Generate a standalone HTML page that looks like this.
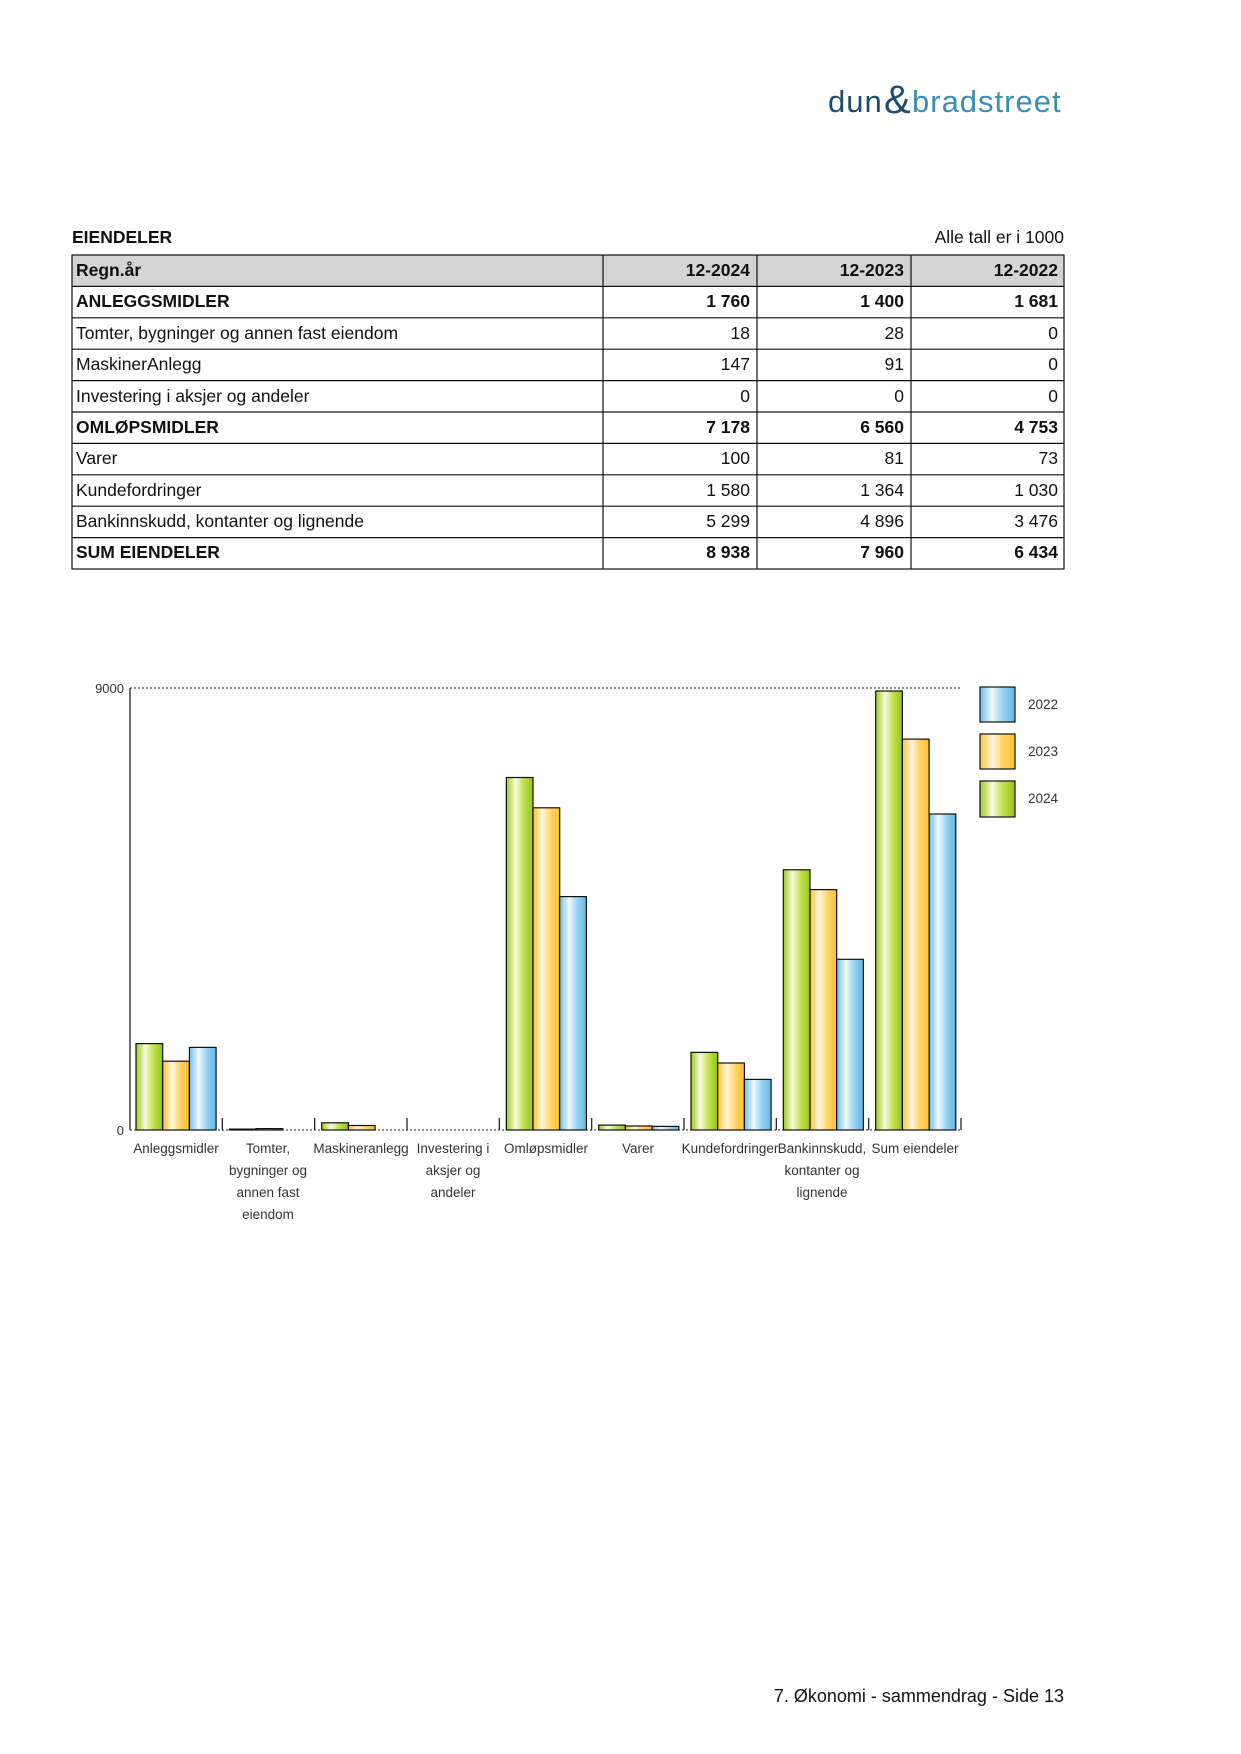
<!DOCTYPE html>
<html><head><meta charset="utf-8"><style>
html,body{margin:0;padding:0;background:#fff;}
svg{display:block;font-family:"Liberation Sans",Arial,sans-serif;}
</style></head><body>
<svg width="1241" height="1754" viewBox="0 0 1241 1754" xmlns="http://www.w3.org/2000/svg">
<defs>
<linearGradient id="gG" x1="0" x2="1" y1="0" y2="0">
<stop offset="0" stop-color="#9fcb1e"/><stop offset="0.35" stop-color="#f6fbe0"/><stop offset="0.65" stop-color="#c2e14e"/><stop offset="1" stop-color="#93c41a"/></linearGradient>
<linearGradient id="gO" x1="0" x2="1" y1="0" y2="0">
<stop offset="0" stop-color="#ffc235"/><stop offset="0.35" stop-color="#fff7df"/><stop offset="0.65" stop-color="#ffd566"/><stop offset="1" stop-color="#ffbe2c"/></linearGradient>
<linearGradient id="gB" x1="0" x2="1" y1="0" y2="0">
<stop offset="0" stop-color="#6fbfe9"/><stop offset="0.35" stop-color="#f0f9fe"/><stop offset="0.65" stop-color="#98d3f2"/><stop offset="1" stop-color="#62b5e5"/></linearGradient>
</defs>

<!-- logo -->
<text x="828" y="112" font-size="31" fill="#1f4c6e" letter-spacing="1">dun</text>
<text x="884" y="113" font-size="40" fill="#1f4c6e">&amp;</text>
<text x="912" y="112" font-size="31" fill="#3a8db3" letter-spacing="1">bradstreet</text>

<text x="72" y="243" font-size="17.5" font-weight="bold" fill="#111">EIENDELER</text>
<text x="1064" y="243" font-size="17.5" fill="#111" text-anchor="end">Alle tall er i 1000</text>

<!-- table -->
<rect x="72" y="255" width="992" height="31.4" fill="#d4d4d4"/>
<g stroke="#111" stroke-width="1.2" fill="none">
<rect x="72" y="255" width="992" height="314"/>
<line x1="603" y1="255" x2="603" y2="569"/><line x1="757" y1="255" x2="757" y2="569"/><line x1="911" y1="255" x2="911" y2="569"/>
<line x1="72" y1="286.4" x2="1064" y2="286.4"/><line x1="72" y1="317.8" x2="1064" y2="317.8"/><line x1="72" y1="349.2" x2="1064" y2="349.2"/>
<line x1="72" y1="380.6" x2="1064" y2="380.6"/><line x1="72" y1="412" x2="1064" y2="412"/><line x1="72" y1="443.4" x2="1064" y2="443.4"/>
<line x1="72" y1="474.8" x2="1064" y2="474.8"/><line x1="72" y1="506.2" x2="1064" y2="506.2"/><line x1="72" y1="537.6" x2="1064" y2="537.6"/>
</g>
<g font-size="17.5" fill="#111">
<g font-weight="bold"><text x="76" y="276">Regn.år</text><text x="750" y="276" text-anchor="end">12-2024</text><text x="904" y="276" text-anchor="end">12-2023</text><text x="1058" y="276" text-anchor="end">12-2022</text></g>
<g font-weight="bold"><text x="76" y="307">ANLEGGSMIDLER</text><text x="750" y="307" text-anchor="end">1 760</text><text x="904" y="307" text-anchor="end">1 400</text><text x="1058" y="307" text-anchor="end">1 681</text></g>
<text x="76" y="339">Tomter, bygninger og annen fast eiendom</text><text x="750" y="339" text-anchor="end">18</text><text x="904" y="339" text-anchor="end">28</text><text x="1058" y="339" text-anchor="end">0</text>
<text x="76" y="370">MaskinerAnlegg</text><text x="750" y="370" text-anchor="end">147</text><text x="904" y="370" text-anchor="end">91</text><text x="1058" y="370" text-anchor="end">0</text>
<text x="76" y="402">Investering i aksjer og andeler</text><text x="750" y="402" text-anchor="end">0</text><text x="904" y="402" text-anchor="end">0</text><text x="1058" y="402" text-anchor="end">0</text>
<g font-weight="bold"><text x="76" y="433">OMLØPSMIDLER</text><text x="750" y="433" text-anchor="end">7 178</text><text x="904" y="433" text-anchor="end">6 560</text><text x="1058" y="433" text-anchor="end">4 753</text></g>
<text x="76" y="464">Varer</text><text x="750" y="464" text-anchor="end">100</text><text x="904" y="464" text-anchor="end">81</text><text x="1058" y="464" text-anchor="end">73</text>
<text x="76" y="496">Kundefordringer</text><text x="750" y="496" text-anchor="end">1 580</text><text x="904" y="496" text-anchor="end">1 364</text><text x="1058" y="496" text-anchor="end">1 030</text>
<text x="76" y="527">Bankinnskudd, kontanter og lignende</text><text x="750" y="527" text-anchor="end">5 299</text><text x="904" y="527" text-anchor="end">4 896</text><text x="1058" y="527" text-anchor="end">3 476</text>
<g font-weight="bold"><text x="76" y="558">SUM EIENDELER</text><text x="750" y="558" text-anchor="end">8 938</text><text x="904" y="558" text-anchor="end">7 960</text><text x="1058" y="558" text-anchor="end">6 434</text></g>
</g>

<!-- chart -->
<line x1="130" y1="688" x2="961" y2="688" stroke="#222" stroke-width="1" stroke-dasharray="2,2"/>
<line x1="130" y1="1130" x2="961" y2="1130" stroke="#222" stroke-width="1" stroke-dasharray="2,2"/>
<line x1="130" y1="688" x2="130" y2="1130" stroke="#111" stroke-width="1.2"/>
<text x="124" y="693" font-size="13" fill="#333" text-anchor="end">9000</text>
<text x="124" y="1135" font-size="13" fill="#333" text-anchor="end">0</text>
<g stroke="#111" stroke-width="1.2">
<line x1="222.3" y1="1118" x2="222.3" y2="1130"/><line x1="314.7" y1="1118" x2="314.7" y2="1130"/><line x1="407" y1="1118" x2="407" y2="1130"/>
<line x1="499.3" y1="1118" x2="499.3" y2="1130"/><line x1="591.7" y1="1118" x2="591.7" y2="1130"/><line x1="684" y1="1118" x2="684" y2="1130"/>
<line x1="776.3" y1="1118" x2="776.3" y2="1130"/><line x1="868.7" y1="1118" x2="868.7" y2="1130"/><line x1="961" y1="1118" x2="961" y2="1130"/>
</g>
<g font-size="13.5" fill="#333" text-anchor="middle">
<text x="176" y="1153">Anleggsmidler</text>
<text x="268" y="1153">Tomter,</text><text x="268" y="1175">bygninger og</text><text x="268" y="1197">annen fast</text><text x="268" y="1219">eiendom</text>
<text x="361" y="1153">Maskineranlegg</text>
<text x="453" y="1153">Investering i</text><text x="453" y="1175">aksjer og</text><text x="453" y="1197">andeler</text>
<text x="546" y="1153">Omløpsmidler</text>
<text x="638" y="1153">Varer</text>
<text x="730" y="1153">Kundefordringer</text>
<text x="822" y="1153">Bankinnskudd,</text><text x="822" y="1175">kontanter og</text><text x="822" y="1197">lignende</text>
<text x="915" y="1153">Sum eiendeler</text>
</g>
<!-- legend -->
<g stroke="#111" stroke-width="1.2">
<rect x="980" y="687" width="35" height="35" fill="url(#gB)"/>
<rect x="980" y="734" width="35" height="35" fill="url(#gO)"/>
<rect x="980" y="781" width="35" height="36" fill="url(#gG)"/>
</g>
<g font-size="13.5" fill="#333"><text x="1028" y="709">2022</text><text x="1028" y="756">2023</text><text x="1028" y="803">2024</text></g>

<g stroke="#111" stroke-width="1.2">
<rect x="136.0" y="1043.6" width="26.7" height="86.4" fill="url(#gG)"/><rect x="162.7" y="1061.2" width="26.7" height="68.8" fill="url(#gO)"/><rect x="189.4" y="1047.4" width="26.7" height="82.6" fill="url(#gB)"/>
<rect x="229.3" y="1129.1" width="26.7" height="0.9" fill="url(#gG)"/><rect x="256.0" y="1128.6" width="26.7" height="1.4" fill="url(#gO)"/>
<rect x="321.7" y="1122.8" width="26.7" height="7.2" fill="url(#gG)"/><rect x="348.4" y="1125.5" width="26.7" height="4.5" fill="url(#gO)"/>
<rect x="506.3" y="777.5" width="26.7" height="352.5" fill="url(#gG)"/><rect x="533.0" y="807.8" width="26.7" height="322.2" fill="url(#gO)"/><rect x="559.7" y="896.6" width="26.7" height="233.4" fill="url(#gB)"/>
<rect x="598.7" y="1125.1" width="26.7" height="4.9" fill="url(#gG)"/><rect x="625.4" y="1126.0" width="26.7" height="4.0" fill="url(#gO)"/><rect x="652.1" y="1126.4" width="26.7" height="3.6" fill="url(#gB)"/>
<rect x="691.0" y="1052.4" width="26.7" height="77.6" fill="url(#gG)"/><rect x="717.7" y="1063.0" width="26.7" height="67.0" fill="url(#gO)"/><rect x="744.4" y="1079.4" width="26.7" height="50.6" fill="url(#gB)"/>
<rect x="783.3" y="869.8" width="26.7" height="260.2" fill="url(#gG)"/><rect x="810.0" y="889.6" width="26.7" height="240.4" fill="url(#gO)"/><rect x="836.7" y="959.3" width="26.7" height="170.7" fill="url(#gB)"/>
<rect x="875.7" y="691.0" width="26.7" height="439.0" fill="url(#gG)"/><rect x="902.4" y="739.1" width="26.7" height="390.9" fill="url(#gO)"/><rect x="929.1" y="814.0" width="26.7" height="316.0" fill="url(#gB)"/>
</g>

<text x="1064" y="1702" font-size="18" fill="#111" text-anchor="end">7. Økonomi - sammendrag - Side 13</text>
</svg>
</body></html>
